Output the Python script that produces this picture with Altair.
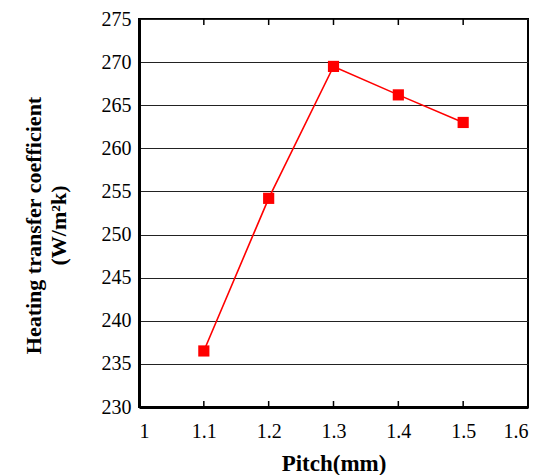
import altair as alt
import pandas as pd

pitch = [1.1, 1.2, 1.3, 1.4, 1.5]
htc = [236.5, 254.2, 269.5, 266.2, 263.0]
x_ticks = [1.0, 1.1, 1.2, 1.3, 1.4, 1.5, 1.6]
y_ticks = [230, 235, 240, 245, 250, 255, 260, 265, 270, 275]
inner_ticks = [1.1, 1.2, 1.3, 1.4, 1.5]

df = pd.DataFrame({"pitch": pitch, "htc": htc})
tick_df = pd.DataFrame({"x": inner_ticks})

FONT = "Liberation Serif"
H = 388
W = 389
TICK = 6

xscale = alt.Scale(domain=[1.0, 1.6], nice=False)
yscale = alt.Scale(domain=[230, 275], nice=False, zero=False)

base = alt.Chart(df)

line = base.mark_line(color="#ff0000", strokeWidth=1.6).encode(
    x=alt.X("pitch:Q", scale=xscale,
            axis=alt.Axis(values=x_ticks, format="~g", title="Pitch(mm)",
                          grid=False, ticks=False,
                          labelPadding=14, domainColor="black", domainWidth=3,
                          titleY=56, titleBaseline="middle", titleFontSize=23)),
    y=alt.Y("htc:Q", scale=yscale,
            axis=alt.Axis(values=y_ticks, title=["Heating transfer coefficient", "(W/m\u00b2k)"],
                          grid=True, gridColor="#222222", gridWidth=1.2,
                          ticks=False, labelPadding=8,
                          domainColor="black", domainWidth=3,
                          titleX=-106, titleY=206, titleAlign="center",
                          titleBaseline="middle", titleLineHeight=25, titleFontSize=22)),
)

points = base.mark_square(color="#ff0000", size=125, opacity=1).encode(
    x=alt.X("pitch:Q", scale=xscale),
    y=alt.Y("htc:Q", scale=yscale),
)

tick_bottom = alt.Chart(tick_df).mark_rule(
    color="black", strokeWidth=1.5, y=H, y2=H - TICK
).encode(x=alt.X("x:Q", scale=xscale))

tick_top = alt.Chart(tick_df).mark_rule(
    color="black", strokeWidth=1.5, y=0, y2=TICK
).encode(x=alt.X("x:Q", scale=xscale))

chart = alt.layer(line, points, tick_bottom, tick_top).properties(
    width=W, height=H,
    padding={"left": 139, "top": 19, "right": 19, "bottom": 68},
    autosize=alt.AutoSizeParams(type="none"),
    background="white",
).configure_view(
    stroke="black", strokeWidth=2
).configure_axis(
    labelFont=FONT, labelFontSize=20, labelColor="black",
    titleFont=FONT, titleFontWeight="bold", titleColor="black",
)

chart.save("out.html", embed_options={"renderer": "svg", "actions": False})
